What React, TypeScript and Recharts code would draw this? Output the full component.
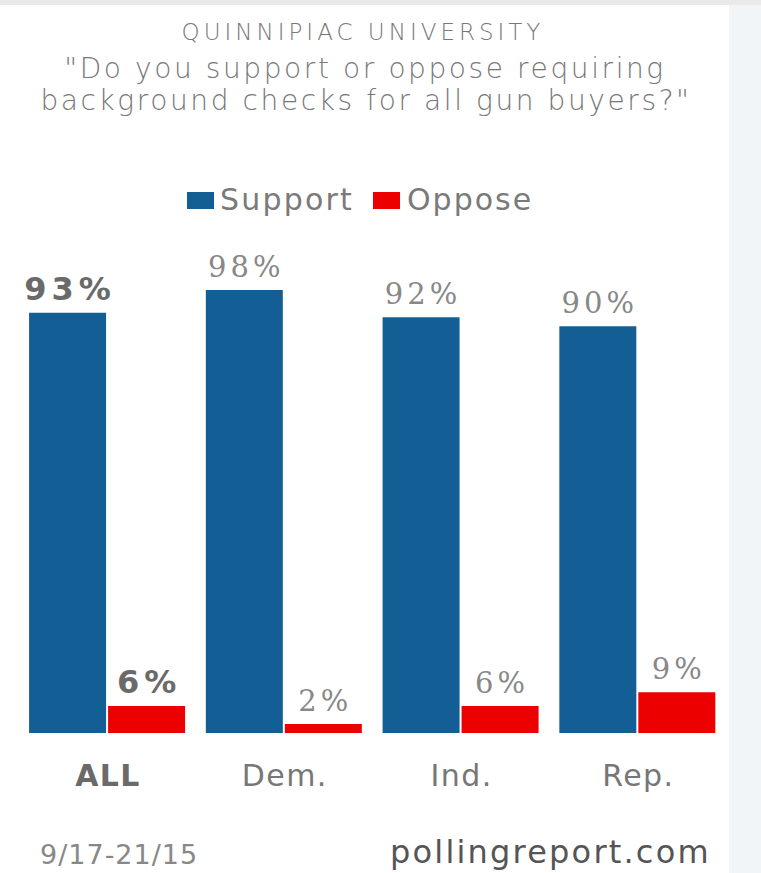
import { Bar, BarChart, LabelList, XAxis, YAxis } from 'recharts';

const groups = ['ALL', 'Dem.', 'Ind.', 'Rep.'];
const support = [93, 98, 92, 90];
const oppose = [6, 2, 6, 9];

const data = groups.map((g, i) => ({ group: g, support: support[i], oppose: oppose[i] }));

const blue = '#135f95';
const red = '#ec0000';
const sans = '"DejaVu Sans", Verdana, sans-serif';
const serif = '"DejaVu Serif", Georgia, serif';

// value labels: the ALL group is bold sans, the rest a light serif
function ValueLabel(props: any) {
    const { x, y, width, value, index } = props;
    const bold = index === 0;
    const ls = bold ? 5 : 4;
    return (
        <text
            x={x + width / 2 + ls / 2}
            y={y - 13}
            textAnchor="middle"
            fontSize={bold ? 32 : 29}
            fontWeight={bold ? 'bold' : 'normal'}
            fontFamily={bold ? sans : serif}
            letterSpacing={ls}
            fill={bold ? '#6a6a6a' : '#888'}
        >
            {value}%
        </text>
    );
}

function GroupTick(props: any) {
    const { x, y, payload, index } = props;
    const bold = index === 0;
    return (
        <text
            x={x + 0.7}
            y={y + 45}
            textAnchor="middle"
            fontSize={30}
            fontWeight={bold ? 'bold' : 'normal'}
            fontFamily={sans}
            letterSpacing={1.4}
            fill={bold ? '#6a6a6a' : '#777'}
        >
            {payload.value}
        </text>
    );
}

export default function App() {
    return (
        <div style={{ position: 'absolute', left: 0, top: 0, width: 761, height: 873, background: '#fff', overflow: 'hidden' }}>
            <div style={{ position: 'absolute', left: 0, top: 0, width: 761, height: 5, background: '#e9e9e9' }} />
            <div style={{ position: 'absolute', left: 729, top: 5, width: 32, height: 868, background: '#f2f5f8' }} />
            <div style={{ position: 'absolute', left: 0, top: 0 }}>
                <BarChart
                    width={761}
                    height={873}
                    data={data}
                    margin={{ top: 281, right: 35, bottom: 0, left: 19 }}
                    barGap={2}
                    barCategoryGap="5.7%"
                >
                    <XAxis dataKey="group" axisLine={false} tickLine={false} height={140} tick={<GroupTick />} interval={0} />
                    <YAxis hide domain={[0, 100]} />
                    <Bar dataKey="support" fill={blue} isAnimationActive={false}>
                        <LabelList dataKey="support" content={<ValueLabel />} />
                    </Bar>
                    <Bar dataKey="oppose" fill={red} isAnimationActive={false}>
                        <LabelList dataKey="oppose" content={<ValueLabel />} />
                    </Bar>
                </BarChart>
            </div>
            <svg width={761} height={873} style={{ position: 'absolute', left: 0, top: 0, pointerEvents: 'none' }} fontFamily={sans}>
                <text x={363} y={40} textAnchor="middle" fontSize={23} fontWeight={300} letterSpacing={4} fill="#777">
                    QUINNIPIAC UNIVERSITY
                </text>
                <text x={365} y={78} textAnchor="middle" fontSize={28} fontWeight={300} letterSpacing={2.6} fill="#777">
                    "Do you support or oppose requiring
                </text>
                <text x={366} y={110} textAnchor="middle" fontSize={28} fontWeight={300} letterSpacing={2.6} fill="#777">
                    background checks for all gun buyers?"
                </text>
                <rect x={187} y={192} width={27} height={17} fill={blue} />
                <text x={220} y={210} fontSize={30} letterSpacing={2.2} fill="#7a7a7a">Support</text>
                <rect x={373} y={192} width={27} height={17} fill={red} />
                <text x={407} y={210} fontSize={30} letterSpacing={2} fill="#7a7a7a">Oppose</text>
                <text x={40} y={864} fontSize={27} letterSpacing={1} fill="#888">9/17-21/15</text>
                <text x={390} y={863} fontSize={32} letterSpacing={2.2} fill="#555">pollingreport.com</text>
            </svg>
        </div>
    );
}
